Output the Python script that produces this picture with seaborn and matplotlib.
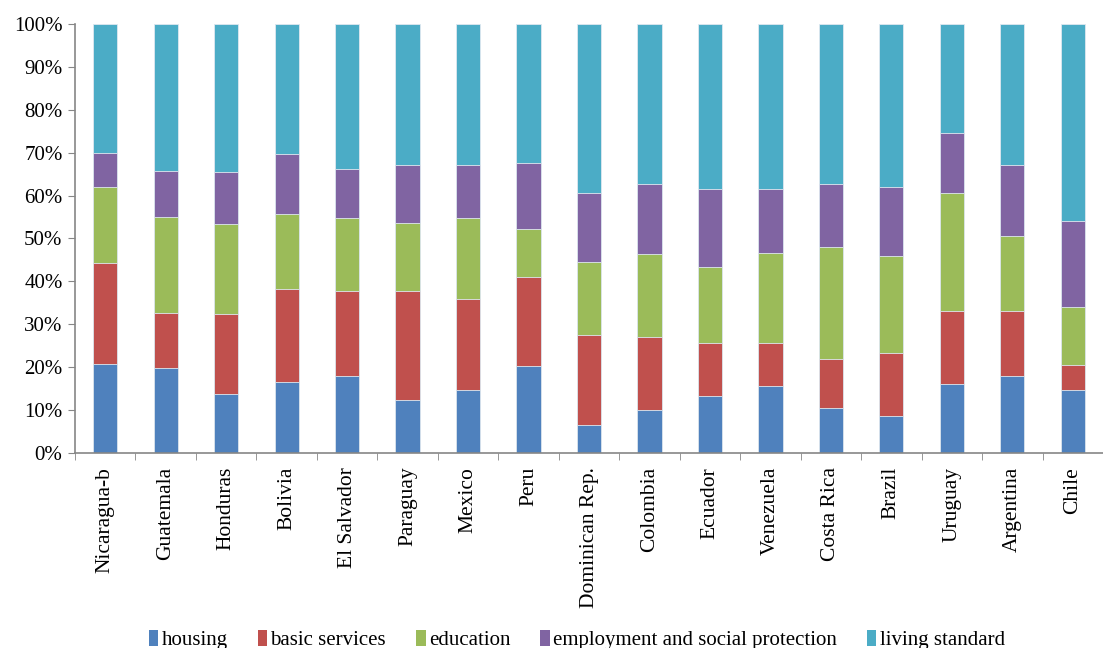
import numpy as np
import pandas as pd
import matplotlib
matplotlib.use("Agg")
import matplotlib.pyplot as plt
import seaborn as sns
from matplotlib.patches import Patch

countries = ["Nicaragua-b", "Guatemala", "Honduras", "Bolivia", "El Salvador",
             "Paraguay", "Mexico", "Peru", "Dominican Rep.", "Colombia", "Ecuador",
             "Venezuela", "Costa Rica", "Brazil", "Uruguay", "Argentina", "Chile"]

# shares in percent
housing = [20.7, 19.7, 13.7, 16.5, 17.9, 12.3, 14.7, 20.2, 6.6, 10.0, 13.2,
           15.5, 10.5, 8.5, 16.0, 17.9, 14.6]
basic_services = [23.6, 13.0, 18.6, 21.8, 19.9, 25.5, 21.3, 20.9, 21.0, 17.1, 12.5,
                  10.2, 11.5, 14.9, 17.2, 15.3, 6.0]
education = [17.8, 22.4, 21.0, 17.3, 16.9, 15.9, 18.7, 11.2, 16.8, 19.2, 17.7,
             21.0, 26.1, 22.4, 27.5, 17.3, 13.5]
employment = [7.9, 10.7, 12.1, 14.0, 11.5, 13.5, 12.5, 15.4, 16.3, 16.3, 18.2,
              14.9, 14.5, 16.3, 14.0, 16.7, 20.0]
living_standard = [30.0, 34.2, 34.6, 30.4, 33.8, 32.8, 32.8, 32.3, 39.3, 37.4, 38.4,
                   38.4, 37.4, 37.9, 25.3, 32.8, 45.9]

labels = ["housing", "basic services", "education",
          "employment and social protection", "living standard"]
colors = ["#4F81BD", "#C0504D", "#9BBB59", "#8064A2", "#4BACC6"]

df = pd.DataFrame({"country": countries, "housing": housing,
                   "basic services": basic_services, "education": education,
                   "employment and social protection": employment,
                   "living standard": living_standard})
cum = df[labels].cumsum(axis=1)
cum = cum.div(cum["living standard"], axis=0) * 100

plt.rcParams["font.family"] = ["Liberation Serif", "DejaVu Serif"]
fig = plt.figure(figsize=(11.03, 6.48), dpi=100)
ax = fig.add_axes([0.068, 0.301, 0.932, 0.662])

# draw cumulative totals from the top layer down so each overlays the next
for lab, col in reversed(list(zip(labels, colors))):
    sns.barplot(x=df["country"], y=cum[lab], color=col, width=0.4,
                edgecolor="#dfe8f0", linewidth=0.6, saturation=1, ax=ax)

ax.set_ylim(0, 100)
ax.set_xlim(-0.5, len(countries) - 0.5)
ax.set_yticks(np.arange(0, 101, 10))
ax.set_yticklabels([f"{v}%" for v in range(0, 101, 10)], fontsize=15)
ax.set_xticks(range(len(countries)))
ax.set_xticklabels(countries, rotation=90, fontsize=15.5)
ax.set_xticks(np.arange(-0.5, len(countries), 1), minor=True)
ax.tick_params(axis="x", which="major", length=0, pad=10)
ax.tick_params(axis="x", which="minor", length=5, color="#868686", direction="out")
ax.tick_params(axis="y", length=5, color="#868686", direction="out", pad=4)
ax.set_xlabel("")
ax.set_ylabel("")
for s in ["top", "right"]:
    ax.spines[s].set_visible(False)
for s in ["left", "bottom"]:
    ax.spines[s].set_color("#868686")
    ax.spines[s].set_linewidth(1.2)

handles = [Patch(facecolor=c, edgecolor="none") for c in colors]
fig.legend(handles, labels, loc="lower center", ncol=5, frameon=False,
           bbox_to_anchor=(0.523, -0.032), fontsize=15, handlelength=0.45,
           handleheight=0.8, handletextpad=0.15, columnspacing=1.45)

fig.savefig("out.png", dpi=100)
